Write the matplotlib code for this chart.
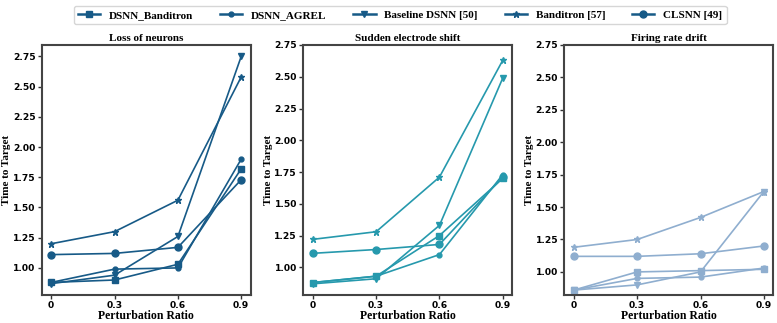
import matplotlib
matplotlib.use("Agg")
import matplotlib.pyplot as plt
from matplotlib.lines import Line2D

ratios = [0, 0.3, 0.6, 0.9]
xtick_labels = ["0", "0.3", "0.6", "0.9"]
methods = ["DSNN_Banditron", "DSNN_AGREL", "Baseline DSNN [50]", "Banditron [57]", "CLSNN [49]"]
markers = ["s", ".", "v", "*", "o"]
titles = ["Loss of neurons", "Sudden electrode shift", "Firing rate drift"]
colors = ["#175a87", "#2699ad", "#8faecf"]

loss_of_neurons = {
    "DSNN_Banditron": [0.88, 0.90, 1.03, 1.82],
    "DSNN_AGREL": [0.88, 0.99, 1.00, 1.90],
    "Baseline DSNN [50]": [0.87, 0.94, 1.26, 2.75],
    "Banditron [57]": [1.20, 1.30, 1.56, 2.58],
    "CLSNN [49]": [1.11, 1.12, 1.17, 1.73],
}
electrode_shift = {
    "DSNN_Banditron": [0.88, 0.93, 1.25, 1.70],
    "DSNN_AGREL": [0.88, 0.93, 1.10, 1.73],
    "Baseline DSNN [50]": [0.87, 0.91, 1.33, 2.49],
    "Banditron [57]": [1.22, 1.28, 1.71, 2.63],
    "CLSNN [49]": [1.11, 1.14, 1.18, 1.71],
}
firing_drift = {
    "DSNN_Banditron": [0.86, 1.00, 1.01, 1.02],
    "DSNN_AGREL": [0.86, 0.95, 0.96, 1.03],
    "Baseline DSNN [50]": [0.86, 0.90, 1.00, 1.62],
    "Banditron [57]": [1.19, 1.25, 1.42, 1.62],
    "CLSNN [49]": [1.12, 1.12, 1.14, 1.20],
}
panels = [loss_of_neurons, electrode_shift, firing_drift]

serif = ["Liberation Serif", "DejaVu Serif"]
msizes = {"s": 4.5, ".": 7, "v": 5, "*": 5, "o": 5}

fig = plt.figure(figsize=(7.77, 3.23), dpi=100)
lefts = [0.0537, 0.3903, 0.7263]
width, bottom, height = 0.269, 0.0867, 0.774

for i, (data, title, color) in enumerate(zip(panels, titles, colors)):
    ax = fig.add_axes([lefts[i], bottom, width, height])
    for m, mk in zip(methods, markers):
        ax.plot(ratios, data[m], marker=mk, color=color, lw=1.2, ms=msizes[mk])
    if i > 0:
        ax.set_ylim(top=2.75)
    ax.set_xticks(ratios)
    ax.set_xticklabels(xtick_labels)
    ax.set_yticks([1.00, 1.25, 1.50, 1.75, 2.00, 2.25, 2.50, 2.75])
    ax.set_yticklabels([f"{v:.2f}" for v in ax.get_yticks()])
    for lab in ax.get_xticklabels() + ax.get_yticklabels():
        lab.set_fontweight("bold")
        lab.set_fontsize(6.6)
    ax.tick_params(length=3, width=1, pad=1.5, color="#333333")
    ax.set_title(title, family=serif, fontweight="bold", fontsize=8, pad=3)
    ax.set_xlabel("Perturbation Ratio", family=serif, fontweight="bold", fontsize=8.5, labelpad=0)
    ax.set_ylabel("Time to Target", family=serif, fontweight="bold", fontsize=8)
    ax.yaxis.set_label_coords(-0.145, 0.5)
    for s in ax.spines.values():
        s.set_linewidth(1.5)
        s.set_color("#444444")

handles = [Line2D([], [], color=colors[0], marker=mk, lw=1.8, ms=msizes[mk])
           for mk in markers]
fig.legend(handles, methods, loc="upper center", bbox_to_anchor=(0.515, 1.0), ncol=5,
           prop={"family": serif, "weight": "bold", "size": 8}, frameon=True,
           borderpad=0.4, columnspacing=2.4, handlelength=2.0, handletextpad=0.8)

fig.savefig("out.png", dpi=100)
